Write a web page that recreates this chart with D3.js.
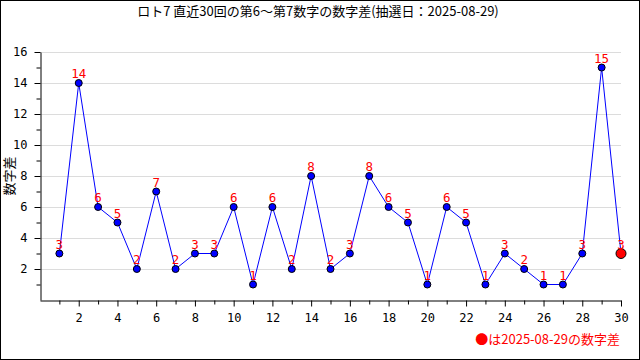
<!DOCTYPE html>
<html><head><meta charset="utf-8">
<script src="https://cdn.jsdelivr.net/npm/d3@7"></script>
<style>body{margin:0;background:#fff}svg{display:block}text{font-family:"DejaVu Sans Mono","Noto Sans CJK JP",monospace}</style>
</head><body>
<svg id="c" width="640" height="360"></svg>
<script>
const draws = d3.range(1, 31);
const diffs = [3,14,6,5,2,7,2,3,3,6,1,6,2,8,2,3,8,6,5,1,6,5,1,3,2,1,1,3,15,3];
const titleText = "ロト7 直近30回の第6～第7数字の数字差(抽選日：2025-08-29)";
const yLabel = "数字差";
const legendText = "●は2025-08-29の数字差";

const svg = d3.select("#c");
const W = 640, H = 360;
const x = d3.scaleLinear().domain([0, 30]).range([40, 621]);
const y = d3.scaleLinear().domain([0, 16]).range([300, 52]);

svg.append("rect").attr("x",0.5).attr("y",0.5).attr("width",W-1).attr("height",H-1)
  .attr("fill","#fff").attr("stroke","#000");

// grid
svg.append("g").selectAll("line").data(d3.range(2,17,2)).join("line")
  .attr("x1",x(0)).attr("x2",x(30)).attr("y1",d=>Math.round(y(d))+0.5).attr("y2",d=>Math.round(y(d))+0.5)
  .attr("stroke","#dcdcdc");

// x axis
const xg = svg.append("g").attr("transform","translate(0,300.5)");
xg.call(d3.axisBottom(x).tickValues(d3.range(1,31)).tickSize(5).tickSizeOuter(0)
  .tickFormat(d=>d%2===0?d:""));
xg.select(".domain").attr("stroke","#000");
xg.selectAll(".tick line").attr("stroke","#000").attr("y2",d=>d%2===0?6:4);
xg.selectAll(".tick text").attr("font-size",12).attr("dy","1.1em").attr("fill","#000")
  .style("font-family","DejaVu Sans Mono");

// y axis
const yg = svg.append("g").attr("transform","translate(40.5,0)");
yg.call(d3.axisLeft(y).tickValues(d3.range(1,17)).tickSize(5).tickSizeOuter(0)
  .tickFormat(d=>d%2===0?d:""));
yg.select(".domain").attr("stroke","#000");
yg.selectAll(".tick line").attr("stroke","#000").attr("x2",d=>d%2===0?-6:-4);
yg.selectAll(".tick text").attr("font-size",12).attr("x",-13).attr("fill","#000")
  .style("font-family","DejaVu Sans Mono");

// title
svg.append("text").attr("x",318).attr("y",16).attr("text-anchor","middle")
  .attr("font-size",13).attr("fill","#000").style("font-family","Noto Sans CJK JP").text(titleText);
// y label
svg.append("text").attr("transform","translate(14,176) rotate(-90)").attr("text-anchor","middle")
  .attr("font-size",13).attr("fill","#000").style("font-family","Noto Sans CJK JP").text(yLabel);

// line
svg.append("path").datum(diffs).attr("fill","none").attr("stroke","#0000ff").attr("stroke-width",1)
  .attr("d", d3.line().x((d,i)=>x(draws[i])).y(d=>y(d)));

// points
svg.append("g").selectAll("circle").data(diffs).join("circle")
  .attr("cx",(d,i)=>x(draws[i])).attr("cy",d=>y(d))
  .attr("r",(d,i)=>i===diffs.length-1?5:3.5)
  .attr("fill",(d,i)=>i===diffs.length-1?"#ff0000":"#0000ff")
  .attr("stroke","#000").attr("stroke-width",1);

// value labels
svg.append("g").selectAll("text").data(diffs).join("text")
  .attr("x",(d,i)=>x(draws[i])).attr("y",d=>y(d)-5)
  .attr("text-anchor","middle").attr("font-size",12.5).attr("fill","#ff0000")
  .style("font-family","DejaVu Sans Mono").text(d=>d);

// legend
svg.append("text").attr("x",620).attr("y",344).attr("text-anchor","end")
  .attr("font-size",13).attr("fill","#ff0000").style("font-family","Noto Sans CJK JP").text(legendText);
</script>
</body></html>
